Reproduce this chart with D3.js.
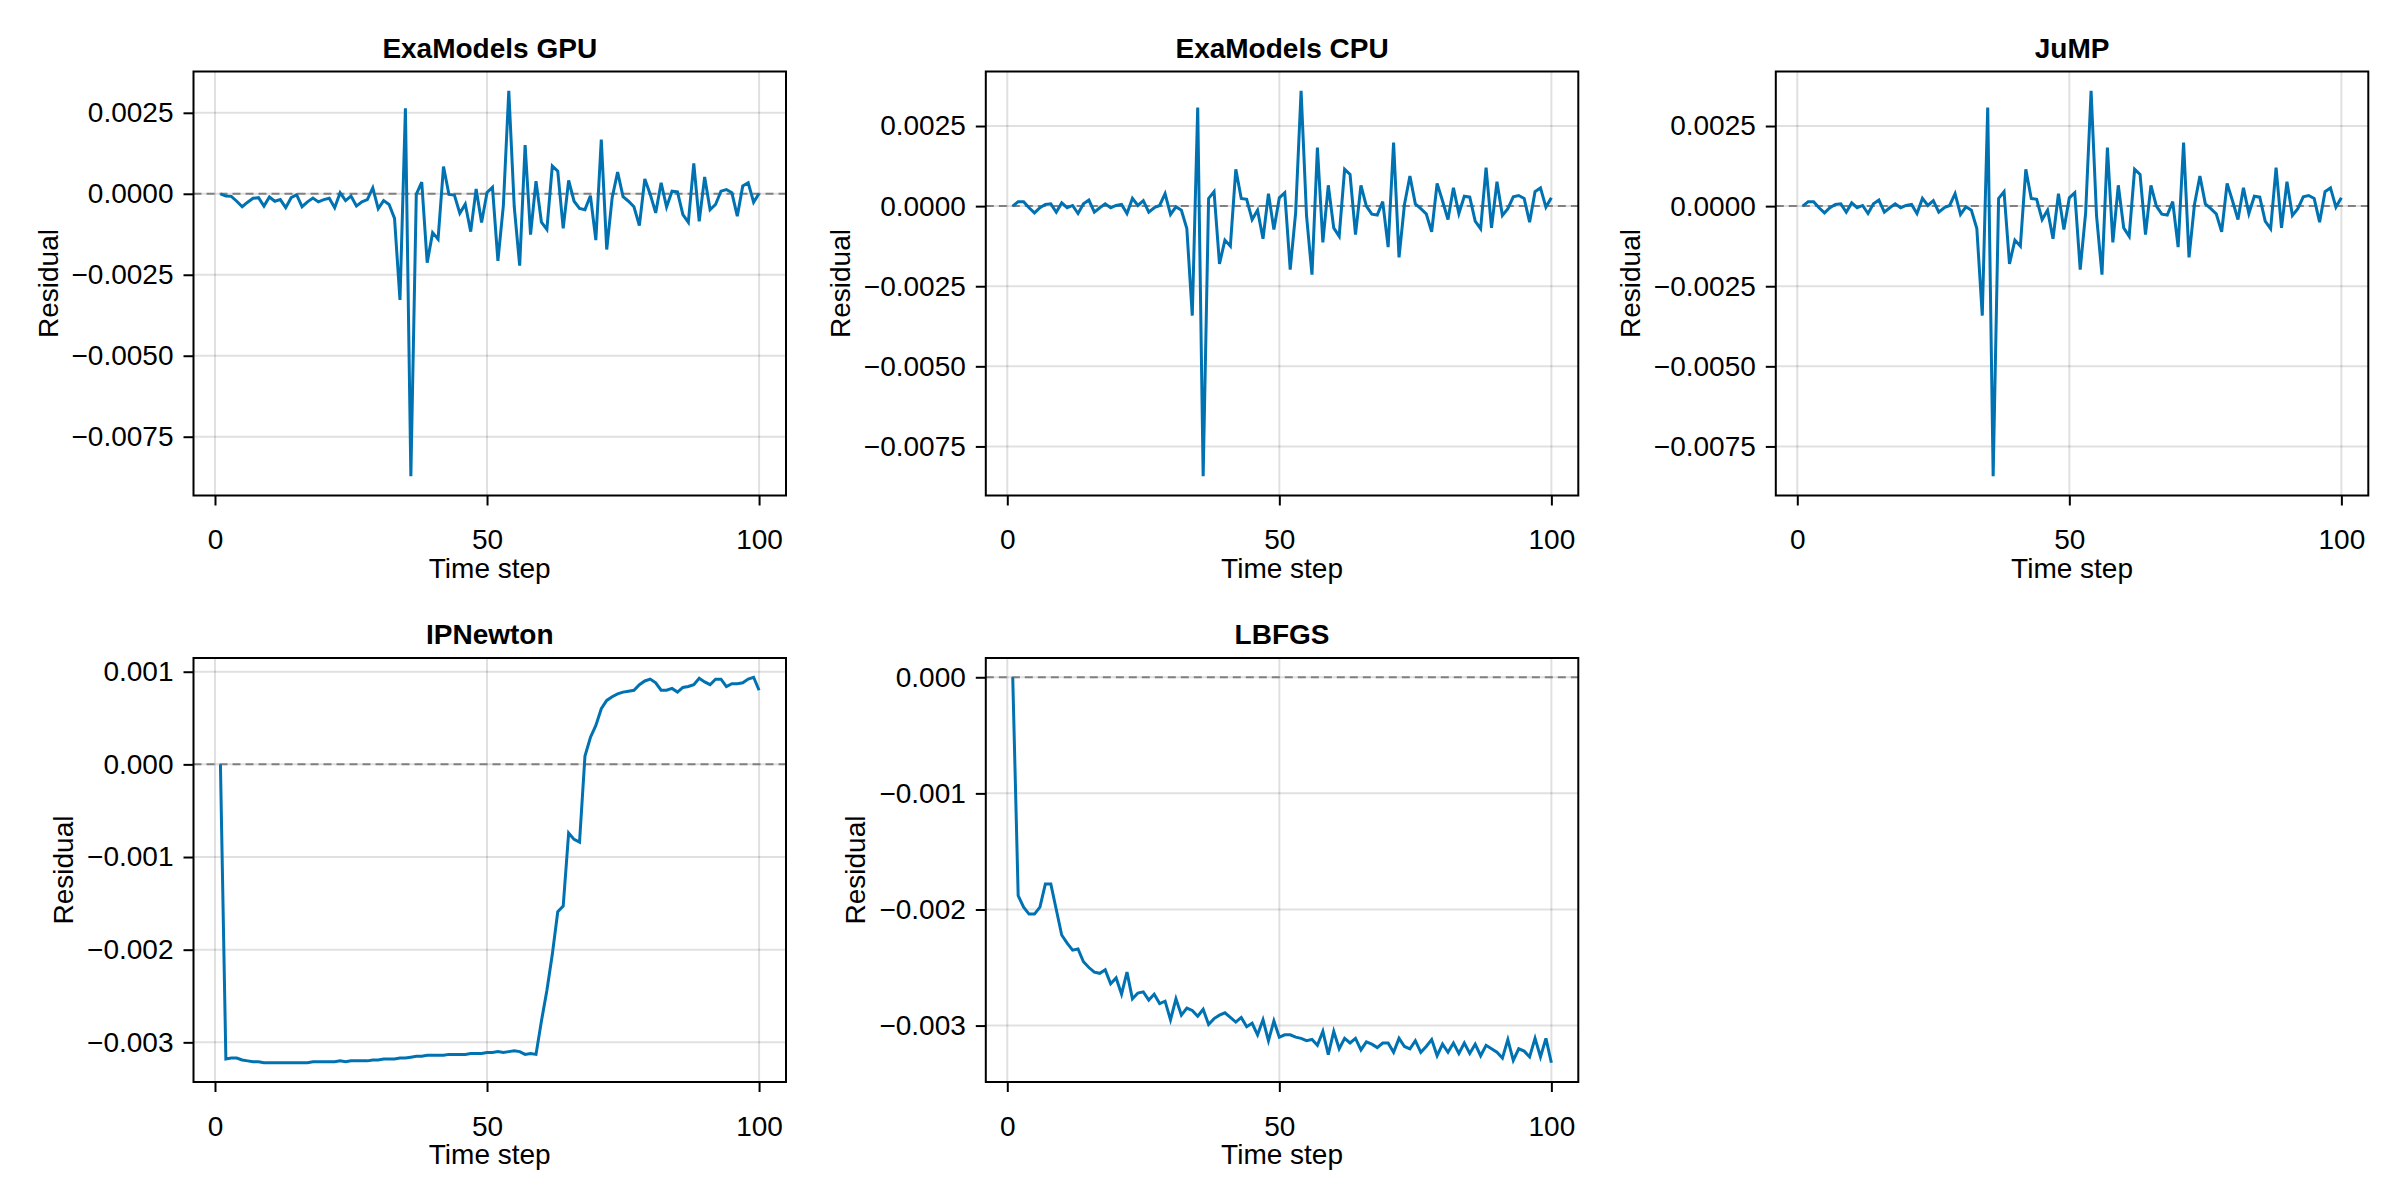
<!DOCTYPE html>
<html>
<head>
<meta charset="utf-8">
<script src="https://cdn.jsdelivr.net/npm/d3@7"></script>
<style>
    body { margin: 0; background: #fff; }
    svg text { font-family: "Liberation Sans", Arial, Helvetica, sans-serif; fill: #000; }
</style>
</head>
<body>
<svg id="chart" width="2400" height="1200"></svg>
<script>
// time steps on the x axis
const timeSteps = d3.range(1, 101);

const exaGpuResidual = [
    0, -0.00007, -0.00008, -0.00023, -0.0004, -0.00026, -0.00014, -0.00012, -0.00038, -0.0001,
    -0.00023, -0.00018, -0.00043, -0.00012, -0.00003, -0.0004, -0.00025, -0.00013, -0.00025, -0.00018,
    -0.00014, -0.00043, 0.00003, -0.00021, -0.00007, -0.00038, -0.00025, -0.00018, 0.00018, -0.00046,
    -0.00021, -0.00033, -0.00076, -0.00328, 0.00264, -0.00872, -0.00002, 0.00036, -0.00213, -0.0012,
    -0.0014, 0.00084, -0.00002, -0.00004, -0.0006, -0.00032, -0.00117, 0.00015, -0.00089, 0.00004,
    0.0002, -0.00207, -0.00037, 0.00318, -0.0004, -0.00222, 0.0015, -0.00126, 0.00039, -0.00088,
    -0.0011, 0.00086, 0.0007, -0.00107, 0.00041, -0.00023, -0.00045, -0.00049, -0.00006, -0.00143,
    0.00167, -0.00172, -0.00012, 0.00067, -0.00009, -0.00023, -0.0004, -0.00098, 0.00046, -0.00002,
    -0.00059, 0.00034, -0.00041, 0.00008, 0.00006, -0.00064, -0.00088, 0.00094, -0.00085, 0.00052,
    -0.00049, -0.00033, 0.00008, 0.00013, 0.00003, -0.00069, 0.00024, 0.00034, -0.00026, 0.00001
];

const exaCpuResidual = [
    0, 0.00014, 0.00014, -0.00005, -0.00021, -0.00005, 0.00005, 0.00007, -0.00019, 0.0001,
    -0.00005, 0.00002, -0.00023, 0.00007, 0.00019, -0.00019, -0.00005, 0.00007, -0.00005, 0.00002,
    0.00005, -0.00023, 0.00024, 0.00002, 0.00017, -0.00019, -0.00005, 0.00002, 0.00039, -0.00026,
    -0.00002, -0.00013, -0.0007, -0.00342, 0.00308, -0.00843, 0.00024, 0.00045, -0.0018, -0.00106,
    -0.00125, 0.00115, 0.00024, 0.00021, -0.00042, -0.00013, -0.00102, 0.00039, -0.00073, 0.00026,
    0.00042, -0.00198, -0.0002, 0.0036, -0.0003, -0.00214, 0.00183, -0.00113, 0.00065, -0.00068,
    -0.00094, 0.00115, 0.00099, -0.00089, 0.00065, 0, -0.00025, -0.00028, 0.00014, -0.00128,
    0.00198, -0.0016, 0.00005, 0.00094, 0.00007, -0.00008, -0.00024, -0.0008, 0.00071, 0.00016,
    -0.00042, 0.00057, -0.00023, 0.00031, 0.00028, -0.00047, -0.00071, 0.0012, -0.00068, 0.00076,
    -0.00029, -0.00008, 0.00029, 0.00033, 0.00024, -0.0005, 0.00045, 0.00057, -0.00003, 0.00026
];

const jumpResidual = [
    0, 0.00014, 0.00014, -0.00005, -0.00021, -0.00005, 0.00005, 0.00007, -0.00019, 0.0001,
    -0.00005, 0.00002, -0.00023, 0.00007, 0.00019, -0.00019, -0.00005, 0.00007, -0.00005, 0.00002,
    0.00005, -0.00023, 0.00024, 0.00002, 0.00017, -0.00019, -0.00005, 0.00002, 0.00039, -0.00026,
    -0.00002, -0.00013, -0.0007, -0.00342, 0.00308, -0.00843, 0.00024, 0.00045, -0.0018, -0.00106,
    -0.00125, 0.00115, 0.00024, 0.00021, -0.00042, -0.00013, -0.00102, 0.00039, -0.00073, 0.00026,
    0.00042, -0.00198, -0.0002, 0.0036, -0.0003, -0.00214, 0.00183, -0.00113, 0.00065, -0.00068,
    -0.00094, 0.00115, 0.00099, -0.00089, 0.00065, 0, -0.00025, -0.00028, 0.00014, -0.00128,
    0.00198, -0.0016, 0.00005, 0.00094, 0.00007, -0.00008, -0.00024, -0.0008, 0.00071, 0.00016,
    -0.00042, 0.00057, -0.00023, 0.00031, 0.00028, -0.00047, -0.00071, 0.0012, -0.00068, 0.00076,
    -0.00029, -0.00008, 0.00029, 0.00033, 0.00024, -0.0005, 0.00045, 0.00057, -0.00003, 0.00026
];

const ipNewtonResidual = [
    0, -0.00318, -0.00317, -0.00317, -0.00319, -0.0032, -0.00321, -0.00321, -0.00322, -0.00322,
    -0.00322, -0.00322, -0.00322, -0.00322, -0.00322, -0.00322, -0.00322, -0.00321, -0.00321, -0.00321,
    -0.00321, -0.00321, -0.0032, -0.00321, -0.0032, -0.0032, -0.0032, -0.0032, -0.00319, -0.00319,
    -0.00318, -0.00318, -0.00318, -0.00317, -0.00317, -0.00316, -0.00315, -0.00315, -0.00314, -0.00314,
    -0.00314, -0.00314, -0.00313, -0.00313, -0.00313, -0.00313, -0.00312, -0.00312, -0.00312, -0.00311,
    -0.00311, -0.0031, -0.00311, -0.0031, -0.00309, -0.0031, -0.00313, -0.00312, -0.00313, -0.00277,
    -0.00244, -0.00205, -0.00159, -0.00153, -0.00074, -0.00081, -0.00084, 0.00009, 0.00029, 0.00042,
    0.0006, 0.00069, 0.00073, 0.00076, 0.00078, 0.00079, 0.0008, 0.00086, 0.0009, 0.00092,
    0.00088, 0.0008, 0.0008, 0.00082, 0.00078, 0.00083, 0.00084, 0.00086, 0.00093, 0.00089,
    0.00086, 0.00092, 0.00092, 0.00084, 0.00087, 0.00087, 0.00088, 0.00092, 0.00094, 0.0008
];

const lbfgsResidual = [
    0, -0.00188, -0.00198, -0.00204, -0.00204, -0.00198, -0.00178, -0.00178, -0.002, -0.00222,
    -0.00229, -0.00235, -0.00234, -0.00245, -0.0025, -0.00254, -0.00255, -0.00252, -0.00264, -0.00259,
    -0.00273, -0.00254, -0.00277, -0.00272, -0.00271, -0.00278, -0.00273, -0.00281, -0.00279, -0.00295,
    -0.00277, -0.00291, -0.00285, -0.00287, -0.00292, -0.00286, -0.00299, -0.00294, -0.00291, -0.00289,
    -0.00293, -0.00297, -0.00293, -0.00301, -0.00298, -0.00308, -0.00295, -0.00313, -0.00296, -0.0031,
    -0.00308, -0.00308, -0.0031, -0.00311, -0.00313, -0.00312, -0.00317, -0.00305, -0.00325, -0.00305,
    -0.0032, -0.00311, -0.00315, -0.00311, -0.00321, -0.00314, -0.00316, -0.00319, -0.00315, -0.00315,
    -0.00323, -0.00311, -0.00318, -0.0032, -0.00313, -0.00323, -0.00318, -0.00312, -0.00326, -0.00316,
    -0.00323, -0.00315, -0.00324, -0.00315, -0.00324, -0.00316, -0.00326, -0.00317, -0.0032, -0.00323,
    -0.00328, -0.00312, -0.0033, -0.0032, -0.00322, -0.00327, -0.00311, -0.00327, -0.00311, -0.00332
];

const xTicks = [0, 50, 100];
const exaTicks = [-0.0075, -0.005, -0.0025, 0, 0.0025];
const ipNewtonTicks = [-0.003, -0.002, -0.001, 0, 0.001];
const lbfgsTicks = [-0.003, -0.002, -0.001, 0];

const svg = d3.select('#chart');

const W = 592.5;
const H = 424;
const FONT = 28;
const lineColor = '#0072b2';
const gridColor = 'rgba(0,0,0,0.12)';

const panels = [
    { title: 'ExaModels GPU', values: exaGpuResidual, yTicks: exaTicks, fmt: '.4f', left: 193.5, top: 71.5 },
    { title: 'ExaModels CPU', values: exaCpuResidual, yTicks: exaTicks, fmt: '.4f', left: 985.8, top: 71.5 },
    { title: 'JuMP', values: jumpResidual, yTicks: exaTicks, fmt: '.4f', left: 1775.8, top: 71.5 },
    { title: 'IPNewton', values: ipNewtonResidual, yTicks: ipNewtonTicks, fmt: '.3f', left: 193.5, top: 658 },
    { title: 'LBFGS', values: lbfgsResidual, yTicks: lbfgsTicks, fmt: '.3f', left: 985.8, top: 658 }
];

// Makie-like autolimits: data extent plus 5% on each side
const padExtent = ([a, b]) => {
    const m = (b - a) * 0.05;
    return [a - m, b + m];
};

const drawPanel = (p) => {
    const g = svg.append('g');
    const right = p.left + W;
    const bottom = p.top + H;

    const x = d3.scaleLinear().domain(padExtent(d3.extent(timeSteps))).range([p.left, right]);
    const y = d3.scaleLinear().domain(padExtent(d3.extent(p.values))).range([bottom, p.top]);
    const fmt = d3.format(p.fmt);

    // grid
    g.append('g').selectAll('line')
        .data(xTicks)
        .enter().append('line')
        .attr('x1', d => x(d)).attr('x2', d => x(d))
        .attr('y1', p.top).attr('y2', bottom)
        .attr('stroke', gridColor).attr('stroke-width', 2);
    g.append('g').selectAll('line')
        .data(p.yTicks)
        .enter().append('line')
        .attr('x1', p.left).attr('x2', right)
        .attr('y1', d => y(d)).attr('y2', d => y(d))
        .attr('stroke', gridColor).attr('stroke-width', 2);

    // zero reference
    g.append('line')
        .attr('x1', p.left).attr('x2', right)
        .attr('y1', y(0)).attr('y2', y(0))
        .attr('stroke', '#808080')
        .attr('stroke-width', 2)
        .attr('stroke-dasharray', '8,5');

    // residual line
    const line = d3.line()
        .x((d, i) => x(timeSteps[i]))
        .y(d => y(d));
    g.append('path')
        .datum(p.values)
        .attr('d', line)
        .attr('fill', 'none')
        .attr('stroke', lineColor)
        .attr('stroke-width', 3);

    // axes
    const xAxis = g.append('g')
        .attr('transform', `translate(0,${bottom})`)
        .call(d3.axisBottom(x).tickValues(xTicks).tickSize(10).tickPadding(24).tickFormat(d3.format('d')));
    const yAxis = g.append('g')
        .attr('transform', `translate(${p.left},0)`)
        .call(d3.axisLeft(y).tickValues(p.yTicks).tickSize(10).tickPadding(10)
            .tickFormat(d => fmt(d).replace('-', '\u2212')));

    [xAxis, yAxis].forEach(ax => {
        ax.select('.domain').remove();
        ax.selectAll('.tick line').attr('stroke', '#000').attr('stroke-width', 2);
        ax.selectAll('.tick text')
            .attr('font-size', FONT)
            .attr('font-family', '"Liberation Sans", Arial, sans-serif')
            .attr('fill', '#000');
    });

    // frame on top
    g.append('rect')
        .attr('x', p.left).attr('y', p.top)
        .attr('width', W).attr('height', H)
        .attr('fill', 'none')
        .attr('stroke', '#000')
        .attr('stroke-width', 2);

    // title
    g.append('text')
        .attr('x', p.left + W / 2)
        .attr('y', p.top - 14)
        .attr('text-anchor', 'middle')
        .attr('font-size', FONT)
        .attr('font-weight', 'bold')
        .text(p.title);

    // x label
    g.append('text')
        .attr('x', p.left + W / 2)
        .attr('y', bottom + 82)
        .attr('text-anchor', 'middle')
        .attr('font-size', FONT)
        .text('Time step');

    // y label sits left of the widest tick label
    let maxW = 0;
    yAxis.selectAll('.tick text').each(function () {
        maxW = Math.max(maxW, this.getBBox().width);
    });
    const cx = p.left - 20 - maxW - 24;
    const cy = p.top + H / 2;
    g.append('text')
        .attr('transform', `translate(${cx + 10},${cy}) rotate(-90)`)
        .attr('text-anchor', 'middle')
        .attr('font-size', FONT)
        .text('Residual');
};

panels.forEach(drawPanel);
</script>
</body>
</html>
